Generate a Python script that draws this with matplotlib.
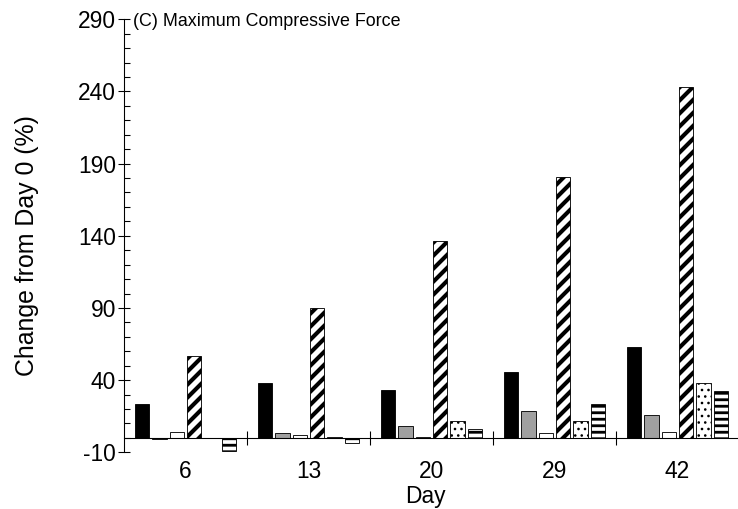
import matplotlib
matplotlib.use("Agg")
import matplotlib.pyplot as plt
import numpy as np

# ---- data ----
days = ["6", "13", "20", "29", "42"]
series_a = [23.6, 38.3, 33.3, 45.3, 63.1]      # solid black
series_b = [-0.5, 3.7, 8.3, 18.9, 15.7]        # gray
series_c = [4.2, 2.1, 0.8, 3.7, 4.2]           # white
series_d = [56.5, 90.1, 136.7, 180.9, 242.8]   # diagonal hatch
series_e = [-0.4, 0.9, 11.8, 11.8, 37.8]       # dotted
series_f = [-9.3, -3.5, 6.2, 23.8, 32.6]       # horizontal stripes

title = "(C) Maximum Compressive Force"
ylabel = "Change from Day 0 (%)"
xlabel = "Day"

DPI = 78
plt.rcParams['font.family'] = ['Liberation Sans', 'DejaVu Sans']
plt.rcParams['axes.unicode_minus'] = False

fig = plt.figure(figsize=(738 / DPI, 509 / DPI), dpi=DPI)
ax = fig.add_axes([124 / 738, 1 - 452.3 / 509, (739 - 124) / 738, (452.3 - 19.3) / 509])

all_series = [series_a, series_b, series_c, series_d, series_e, series_f]
styles = [
    dict(color="black", hatch=None, hlw=1.0),
    dict(color="#a0a0a0", hatch=None, hlw=1.0),
    dict(color="white", hatch=None, hlw=1.0),
    dict(color="white", hatch="//", hlw=3.8),
    dict(color="white", hatch="..", hlw=1.2),
    dict(color="white", hatch="--", hlw=2.6),
]

x = np.arange(len(days))
step = 0.141
width = 0.118
for i, (vals, st) in enumerate(zip(all_series, styles)):
    with plt.rc_context({'hatch.linewidth': st['hlw'], 'hatch.color': 'black'}):
        bars = ax.bar(x + (i - 2.5) * step, vals, width=width, color=st['color'],
                      edgecolor="black", linewidth=0.8, hatch=st['hatch'], zorder=2)
        for b in bars:
            if hasattr(b, 'set_hatch_linewidth'):
                b.set_hatch_linewidth(st['hlw'])

ax.set_xlim(-0.5, 4.5)
ax.set_ylim(-10, 290)

for s in ["top", "right"]:
    ax.spines[s].set_visible(False)
ax.spines["bottom"].set_position(("data", 0))
ax.spines["bottom"].set_linewidth(1.0)
ax.spines["left"].set_linewidth(1.0)
ax.spines["bottom"].set_zorder(3)

ax.set_yticks(np.arange(-10, 291, 50))
ax.set_yticks(np.arange(-10, 291, 10), minor=True)
ax.tick_params(axis="y", which="major", direction="inout", length=11, width=1.0,
               labelsize=21, pad=2)
ax.tick_params(axis="y", which="minor", direction="in", length=5.5, width=1.0)

ax.set_xticks([0.5, 1.5, 2.5, 3.5])
ax.set_xticklabels([])
ax.set_xticks(x, minor=True)
ax.set_xticklabels(days, minor=True)
ax.tick_params(axis="x", which="major", direction="inout", length=13, width=1.0)
ax.tick_params(axis="x", which="minor", length=0, labelsize=21, pad=20)

ax.set_xlabel(xlabel, fontsize=21)
ax.xaxis.set_label_coords(0.49, (452.3 - 497) / 433)
ax.xaxis.label.set_va("center")
ax.set_ylabel(ylabel, fontsize=23)
ax.yaxis.set_label_coords((27 - 124) / 615, (452.3 - 246) / 433)
ax.yaxis.label.set_va("center")

ax.text(0.015, 0.995, title, transform=ax.transAxes, fontsize=16.5,
        ha="left", va="center")

fig.savefig("out.png", dpi=DPI)
